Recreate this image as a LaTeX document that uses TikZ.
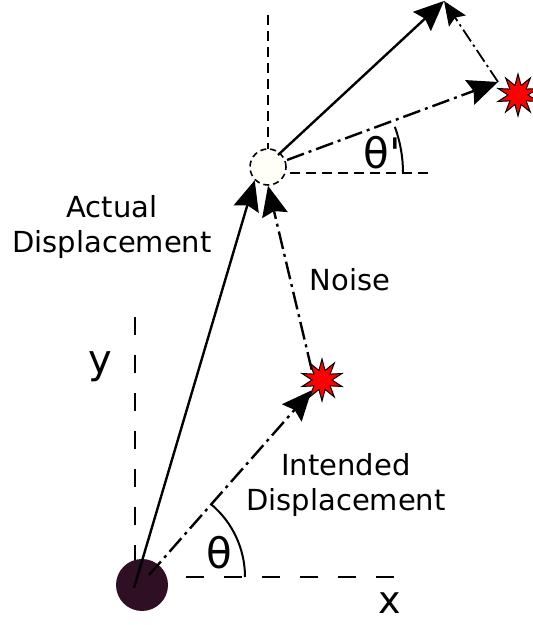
\documentclass[tikz,border=0pt]{standalone}
\usepackage{fontspec}
\setmainfont{DejaVu Sans}
\usepackage{tikz}
\usetikzlibrary{arrows.meta,positioning,shapes.geometric}
\definecolor{bodyPlum}{HTML}{2E0F24}
\definecolor{ghostFill}{HTML}{FFFFF8}
\definecolor{noiseRed}{HTML}{FF0000}
\tikzset{
  bodyball/.style={circle,fill=bodyPlum,minimum size=26pt,inner sep=0pt},
  ghostball/.style={circle,draw=black,line width=0.8pt,fill=ghostFill,
    minimum size=18pt,inner sep=0pt,dash pattern=on 3pt off 2pt},
  noisestar/.style={star,star points=10,star point ratio=2.1,draw=black,fill=noiseRed,
    line width=0.5pt,minimum size=21pt,inner sep=0pt},
  disparrow/.style={-{Stealth[length=15pt,width=13pt,inset=2pt]},line width=1.2pt},
  dashdotarrow/.style={-{Stealth[length=15pt,width=13pt,inset=2pt]},line width=1.2pt,
    dash pattern=on 9pt off 2.5pt on 1.5pt off 2.5pt},
  thinarrow/.style={-{Stealth[length=12pt,width=10pt,inset=2pt]},line width=0.9pt,
    dash pattern=on 7pt off 2pt on 1.2pt off 2pt},
  axisline/.style={line width=1pt,dash pattern=on 9pt off 10pt},
  guideline/.style={line width=0.7pt,dash pattern=on 5pt off 3pt},
  labeltext/.style={font=\fontsize{14.5}{17.5}\selectfont,align=center}
}

\begin{document}
\begin{tikzpicture}[x=0.5pt,y=0.5pt]
  \useasboundingbox (0,0) rectangle (532,625);
  % axes at the start
  \coordinate (ya) at (135,308);
  \coordinate (yb) at (135,55);
  \coordinate (xa) at (186,48);
  \coordinate (xb) at (402,48);
  \draw[axisline] (ya) -- (yb);
  \draw[axisline] (xa) -- (xb);
  % axes at the end
  \coordinate (va) at (268,610);
  \coordinate (vb) at (268,476);
  \coordinate (ha) at (290,452);
  \coordinate (hb) at (428,452);
  \draw[guideline] (va) -- (vb);
  \draw[guideline] (ha) -- (hb);

  \node[bodyball] (ball) at (142,40) {};
  \node[ghostball] (ghost) at (268,458) {};
  \node[noisestar] (star1) at (322,245) {};
  \node[noisestar] (star2) at (518,530) {};

  \coordinate (o1) at (134,37);
  \coordinate (o2) at (149,50);
  \coordinate (g1) at (278,470);
  \coordinate (g2) at (287,465);
  \coordinate (tip) at (444,624);
  \coordinate (aim) at (498,543);

  \draw[disparrow] (o1) -- (ghost.south west);
  \draw[dashdotarrow] (o2) -- (star1.south west);
  \draw[dashdotarrow] (star1.north west) -- (ghost.south);
  \draw[disparrow] (g1) -- (tip);
  \draw[dashdotarrow] (g2) -- (aim);
  \draw[thinarrow] (aim) -- (tip);

  % angles
  \draw[line width=1pt] (245,48) arc[start angle=0,end angle=50,radius=95];
  \draw[line width=1pt] (403,452) arc[start angle=0,end angle=20,radius=135];

  \node[labeltext] (actual) at (112,398) {Actual\\Displacement};
  \node[labeltext] (noise) at (350,345) {Noise};
  \node[labeltext] (intended) at (346,140) {Intended\\Displacement};
  \node[font=\fontsize{20}{24}\selectfont] (ylab) at (100,258) {y};
  \node[font=\fontsize{19}{22}\selectfont] (xlab) at (390,22) {x};
  \node[font=\fontsize{21}{24}\selectfont] (th) at (219,72) {θ};
  \node[font=\fontsize{21}{24}\selectfont] (thp) at (382,472) {θ\textquotesingle};
\end{tikzpicture}
\end{document}
